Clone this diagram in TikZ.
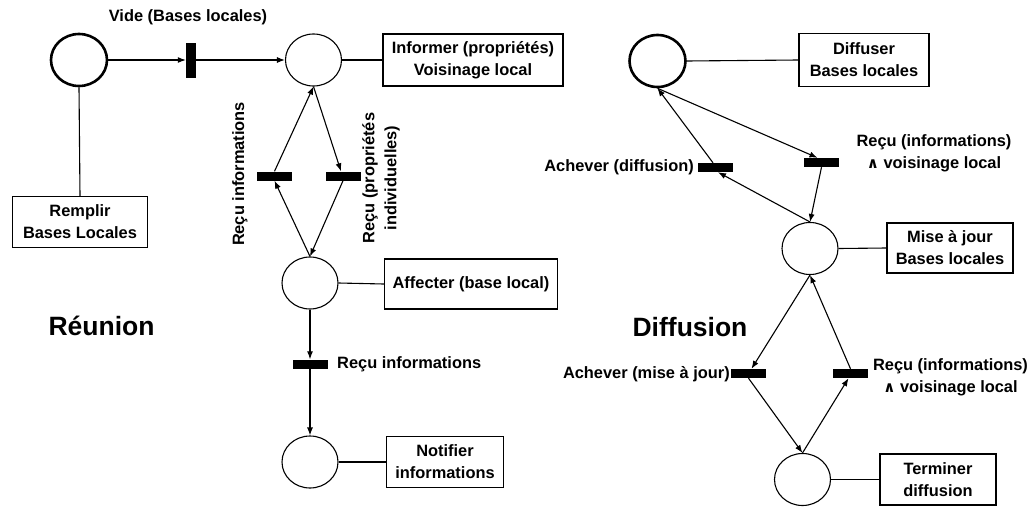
\documentclass[tikz,border=0pt]{standalone}
\usepackage{fontspec}
\setmainfont{Liberation Sans}
\newfontfamily\symfont{DejaVu Sans}
\usetikzlibrary{arrows.meta,shapes.geometric}
\newcommand\lblfont{\fontsize{16.4}{22}\selectfont\bfseries}
\newcommand\andsym{{\symfont\fontsize{15}{15}\selectfont ∧}}
\begin{document}
\begin{tikzpicture}[x=1pt,y=-1pt,
  place/.style={ellipse,draw,line width=1.1pt,minimum width=56pt,minimum height=52pt,inner sep=0pt},
  start/.style={place,line width=2.6pt},
  trans/.style={rectangle,fill=black,inner sep=0pt,minimum width=35pt,minimum height=9pt},
  vtrans/.style={trans,minimum width=10pt,minimum height=35pt},
  note/.style={draw,line width=1.2pt,align=center,inner sep=0pt,font=\lblfont},
  lbl/.style={inner sep=0pt,font=\lblfont,align=center},
  title/.style={inner sep=0pt,font=\fontsize{26.5}{30}\selectfont\bfseries},
  arc/.style={line width=1.1pt,-{Latex[length=8pt,width=6pt]}},
  link/.style={line width=1.1pt}
]
\useasboundingbox (0,0) rectangle (1033,506);

% ---------- Reunion ----------
\node[start] (p1) at (79,60) {};
\node[vtrans] (t0) at (191,60) {};
\node[place] (p2) at (313.5,60) {};
\node[trans] (t1) at (274.5,176) {};
\node[trans] (t2) at (343,176) {};
\node[place] (p3) at (310,283) {};
\node[trans] (t3) at (310,364) {};
\node[place] (p4) at (310,462) {};

\node[note,minimum width=135pt,minimum height=51pt] (remplir) at (80,222) {Remplir\\Bases Locales};
\node[note,minimum width=180pt,minimum height=52pt] (informer) at (473,60) {Informer (propriétés)\\Voisinage local};
\node[note,minimum width=173pt,minimum height=50pt] (affecter) at (471,284) {Affecter (base local)};
\node[note,minimum width=117pt,minimum height=51pt] (notifier) at (445,462) {Notifier\\informations};

\node[lbl] (lvide) at (188,17) {Vide (Bases locales)};
\node[lbl,rotate=90] (lrecu1) at (240,174) {Reçu informations};
\node[lbl,rotate=90] (lrecu2) at (381,178) {Reçu (propriétés\\individuelles)};
\node[lbl,anchor=west] (lrecu3) at (337,364) {Reçu informations};
\node[title] (reunion) at (101.5,326) {Réunion};

\draw[link] (p1.south) -- (remplir.north);
\draw[link] (p2.east) -- (informer.west);
\draw[link] (p3.east) -- (affecter.west);
\draw[link] (p4.east) -- (notifier.west);

\draw[arc] (p1.east) -- (t0.west);
\draw[arc] (t0.east) -- (p2.west);
\draw[arc] (t1.north) -- (p2.south);
\draw[arc] (p2.south) -- ([xshift=-2pt]t2.north);
\draw[arc] (p3.north) -- (t1.south);
\draw[arc] (t2.south) -- (p3.north);
\draw[arc] (p3.south) -- (t3.north);
\draw[arc] (t3.south) -- (p4.north);

% ---------- Diffusion ----------
\node[start] (p5) at (657.5,61) {};
\node[trans] (t4) at (715,167.5) {};
\node[trans] (t5) at (821.5,162.5) {};
\node[place] (p6) at (810,248.5) {};
\node[trans] (t6) at (748.5,373.5) {};
\node[trans] (t7) at (850.5,373.5) {};
\node[place] (p7) at (802.5,479.5) {};

\node[note,minimum width=130pt,minimum height=53pt] (diffuser) at (864,60) {Diffuser\\Bases locales};
\node[note,minimum width=126pt,minimum height=50pt] (misejour) at (950,248) {Mise à jour\\Bases locales};
\node[note,minimum width=116pt,minimum height=51pt] (terminer) at (938,479.5) {Terminer\\diffusion};

\node[lbl,anchor=east] (lach1) at (694,167.5) {Achever (diffusion)};
\node[lbl] (lrecu4) at (934,153) {Reçu (informations)\\\andsym{} voisinage local};
\node[lbl,anchor=east] (lach2) at (730,374) {Achever (mise à jour)};
\node[lbl] (lrecu5) at (950.5,377.5) {Reçu (informations)\\\andsym{} voisinage local};
\node[title] (diffusion) at (690,327) {Diffusion};

\draw[link] (p5.east) -- (diffuser.west);
\draw[link] (p6.east) -- (misejour.west);
\draw[link] (p7.east) -- (terminer.west);

\draw[arc] ([xshift=-2pt]t4.north) -- (p5.south);
\draw[arc] (p5.south) -- ([xshift=-4pt]t5.north);
\draw[arc] (p6.north) -- ([xshift=3pt]t4.south);
\draw[arc] (t5.south) -- (p6.north);
\draw[arc] (p6.south) -- ([xshift=3pt]t6.north);
\draw[arc] (t6.south) -- (p7.north);
\draw[arc] (p7.north) -- ([xshift=-2pt]t7.south);
\draw[arc] (t7.north) -- (p6.south);
\end{tikzpicture}
\end{document}
